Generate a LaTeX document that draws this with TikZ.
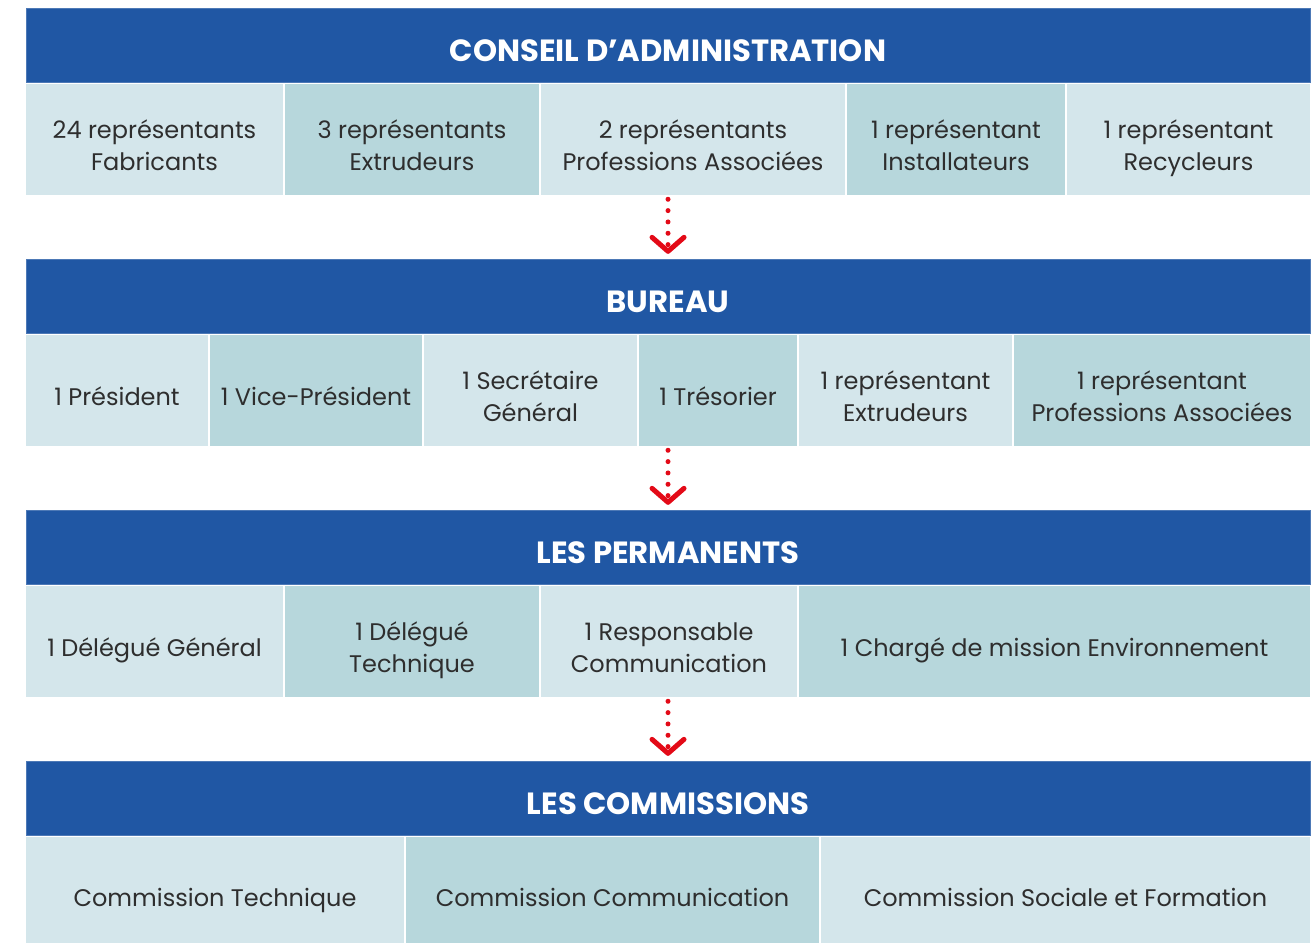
\documentclass[tikz,border=0pt]{standalone}
\usepackage{fontspec}
\setmainfont{Poppins}
\usetikzlibrary{arrows.meta}
\definecolor{hdrblue}{HTML}{2057A4}
\definecolor{celllight}{HTML}{D4E6EB}
\definecolor{celldark}{HTML}{B7D7DC}
\definecolor{txtgray}{HTML}{2E2E2E}
\definecolor{arrred}{HTML}{E30A17}
\newcommand\twoline[2]{\begin{tabular}[t]{@{}c@{}}#1\\#2\end{tabular}}
\begin{document}
\begin{tikzpicture}[x=0.75pt,y=-0.75pt,
  hdr/.style={fill=hdrblue,draw=hdrblue!80!white,line width=0.5pt,inner sep=0pt,
    text=white,font=\fontsize{23}{24}\selectfont\bfseries,
    minimum width=963pt,minimum height=55.5pt,text height=24pt,text depth=0pt},
  cell/.style={inner sep=0pt,text=txtgray,font=\fontsize{18}{24}\selectfont,
    text height=29.6pt,text depth=7.2pt},
  two/.style={text height=0pt,text depth=2.2pt},
  lt/.style={cell,fill=celllight},
  dk/.style={cell,fill=celldark},
  flow/.style={draw=arrred,line width=3.75pt,line cap=round,dash pattern=on 0pt off 8.5pt,
    -{Straight Barb[length=10.5pt,width=24pt,line width=3.75pt,round]},shorten >=4pt}
]
\useasboundingbox (0,0) rectangle (1316,942);
\clip (0,0) rectangle (1316,942);
% Level 1
\node[hdr] (h1) at (668,45) {CONSEIL D’ADMINISTRATION};
\node[lt,two,minimum width=192.75pt,minimum height=83.25pt] (a1) at (154.5,139.5) {\twoline{24 représentants}{Fabricants}};
\node[dk,two,minimum width=190.5pt,minimum height=83.25pt] (a2) at (412,139.5) {\twoline{3 représentants}{Extrudeurs}};
\node[lt,two,minimum width=228pt,minimum height=83.25pt] (a3) at (693,139.5) {\twoline{2 représentants}{Professions Associées}};
\node[dk,two,minimum width=163.5pt,minimum height=83.25pt] (a4) at (956,139.5) {\twoline{1 représentant}{Installateurs}};
\node[lt,two,minimum width=182.25pt,minimum height=83.25pt] (a5) at (1188.5,139.5) {\twoline{1 représentant}{Recycleurs}};
% Level 2
\node[hdr] (h2) at (668,296.5) {BUREAU};
\node[lt,minimum width=136.5pt,minimum height=83.25pt] (b1) at (117,390.5) {1 Président};
\node[dk,minimum width=159pt,minimum height=83.25pt] (b2) at (316,390.5) {1 Vice-Président};
\node[lt,two,minimum width=159.75pt,minimum height=83.25pt] (b3) at (530.5,390.5) {\twoline{1 Secrétaire}{Général}};
\node[dk,minimum width=118.5pt,minimum height=83.25pt] (b4) at (718,390.5) {1 Trésorier};
\node[lt,two,minimum width=159.75pt,minimum height=83.25pt] (b5) at (905.5,390.5) {\twoline{1 représentant}{Extrudeurs}};
\node[dk,two,minimum width=222pt,minimum height=83.25pt] (b6) at (1162,390.5) {\twoline{1 représentant}{Professions Associées}};
% Level 3
\node[hdr] (h3) at (668,547.5) {LES PERMANENTS};
\node[lt,minimum width=192.75pt,minimum height=83.25pt] (c1) at (154.5,641.5) {1 Délégué Général};
\node[dk,two,minimum width=190.5pt,minimum height=83.25pt] (c2) at (412,641.5) {\twoline{1 Délégué}{Technique}};
\node[lt,two,minimum width=192pt,minimum height=83.25pt] (c3) at (669,641.5) {\twoline{1 Responsable}{Communication}};
\node[dk,minimum width=383.25pt,minimum height=83.25pt] (c4) at (1054.5,641.5) {1 Chargé de mission Environnement};
% Level 4
\node[hdr] (h4) at (668,798.5) {LES COMMISSIONS};
\node[lt,minimum width=283.5pt,minimum height=81.75pt] (d1) at (215,891.5) {Commission Technique};
\node[dk,minimum width=309.75pt,minimum height=81.75pt] (d2) at (612.5,891.5) {Commission Communication};
\node[lt,minimum width=366.75pt,minimum height=81.75pt] (d3) at (1065.5,891.5) {Commission Sociale et Formation};
% Connectors
\draw[flow] ([yshift=-3pt]h1 |- a3.south) -- (h2.north);
\draw[flow] ([yshift=-3pt]h2 |- b3.south) -- (h3.north);
\draw[flow] ([yshift=-3pt]h3 |- c3.south) -- (h4.north);
\end{tikzpicture}
\end{document}
